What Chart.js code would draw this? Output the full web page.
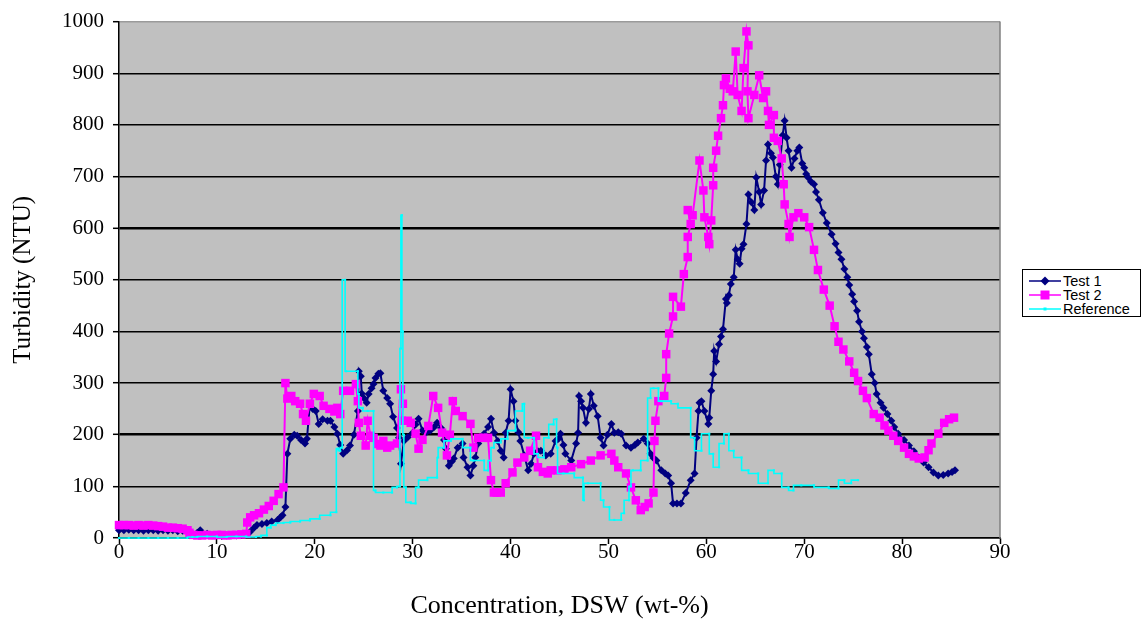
<!DOCTYPE html>
<html><head><meta charset="utf-8">
<script src="https://cdn.jsdelivr.net/npm/chart.js@4"></script>
<style>
html,body{margin:0;padding:0;background:#fff;}
#wrap{position:relative;width:1145px;height:626px;overflow:hidden;}
#c{position:absolute;left:0;top:0;}
#legend{position:absolute;left:1022px;top:269px;width:119px;height:48px;border:1px solid #000;background:#fff;font-family:"Liberation Sans",Arial,sans-serif;font-size:14.5px;color:#000;box-sizing:border-box;}
.row{position:absolute;left:0;height:15px;line-height:15px;white-space:nowrap;}
.row svg{position:absolute;left:6px;top:2px;}
.row span{position:absolute;left:40px;top:0;}
</style></head>
<body><div id="wrap"><canvas id="c" width="1145" height="626"></canvas>
<div id="legend"></div></div>
<script>
// ---- data ----
const seriesNames = ["Test 1", "Test 2", "Reference"];
const xTicks = [0,10,20,30,40,50,60,70,80,90];
const yTicks = [0,100,200,300,400,500,600,700,800,900,1000];

const test1X = [0,0.5,1,1.5,2,2.5,3,3.5,4,4.5,5,5.5,6,6.5,7,7.5,8,8.3,9,9.5,10,10.5,11,11.5,12,12.5,13,13.4,13.8,14.1,14.6,15.1,15.6,16.2,16.5,16.7,17,17.2,17.5,17.9,18.2,18.6,19,19.2,19.5,19.8,20.1,20.4,20.8,21.3,21.6,22,22.3,22.6,22.9,23.3,23.6,24,24.4,24.5,24.7,24.8,25,25.3,25.5,25.8,26,26.2,26.5,26.7,27,27.4,27.7,28,28.4,28.6,28.8,29.1,29.5,30,30.3,30.6,31,31.4,31.8,32.2,32.5,32.9,33.2,33.4,33.7,34,34.2,34.6,35.1,35.2,35.6,35.9,36.2,36.4,36.7,37,37.3,37.7,38,38.3,38.7,39,39.3,39.5,39.8,40,40.3,40.5,40.8,41,41.4,41.8,42.1,42.4,42.8,43.1,43.6,44.1,44.6,44.9,45.1,45.4,45.6,46.2,46.7,46.9,47,47.2,47.4,47.7,48,48.2,48.5,48.9,49.2,49.5,49.9,50.3,50.6,51,51.3,51.8,52.3,52.7,53,53.6,54,54.3,54.6,54.9,55.4,55.8,56.1,56.4,56.6,57,57.4,57.9,58.4,58.8,59,59.2,59.3,59.5,59.8,60.2,60.3,60.5,60.7,60.8,61,61.3,61.5,61.7,62,62.1,62.3,62.5,62.8,63,63.2,63.4,63.6,63.8,64.1,64.3,64.6,64.9,65.1,65.4,65.6,65.9,66.1,66.3,66.6,66.8,67.1,67.3,67.5,67.8,68,68.2,68.4,68.7,69,69.3,69.5,69.8,70,70.2,70.4,70.7,71,71.2,71.5,71.9,72.3,72.8,73.2,73.5,73.8,74.1,74.4,74.6,74.9,75.1,75.4,75.6,75.9,76.1,76.4,76.6,76.9,77.2,77.4,77.8,78.1,78.5,78.9,79.2,79.6,80.2,80.7,81.2,81.7,82.2,82.7,83.2,83.7,84.2,84.7,85.1,85.4];
const test1Y = [15,15,16,15,15,14,15,15,14,15,14,15,13,14,12,8,10,15,8,5,5,4,5,5,5,6,8,12,20,25,27,29,32,35,40,44,60,163,192,200,198,190,183,192,260,250,246,221,230,227,227,215,202,180,163,170,179,200,246,323,313,280,271,262,279,290,298,310,318,319,285,271,260,235,213,194,144,188,195,204,220,231,208,205,208,215,223,213,190,173,140,148,154,175,183,156,137,121,140,156,183,195,202,215,231,204,188,169,156,204,227,288,265,227,205,188,160,131,144,163,168,169,160,163,188,192,202,180,163,150,183,204,275,265,252,223,250,279,256,236,194,179,200,221,204,205,202,179,175,180,185,192,183,163,155,150,131,125,121,106,67,67,67,87,112,125,194,246,262,265,246,221,233,285,317,362,342,375,390,404,463,455,470,492,505,558,540,531,560,569,608,665,650,635,698,670,646,673,731,762,745,737,700,685,723,780,808,775,750,717,735,750,756,725,717,705,698,690,685,670,655,630,610,588,570,553,540,521,505,490,472,458,440,419,400,387,370,356,317,300,279,262,252,240,227,215,202,190,179,168,156,146,137,127,121,122,125,128,131];

const test2X = [0,0.5,1,1.5,2,2.5,3,3.5,4,4.5,5,5.5,6,6.5,7,7.2,7.6,8,8.5,9,9.5,10,10.5,11,11.5,12,12.5,13,13.1,13.4,13.8,14.3,14.8,15.3,15.8,16.3,16.8,17,17.2,17.6,18,18.5,18.8,19.1,19.5,19.9,20.5,20.9,21.5,22,22.3,22.6,22.9,23.6,24.2,24.4,24.5,24.7,25.2,25.4,25.7,26,26.4,26.7,27,27.4,27.7,28.4,28.8,29,28.9,29.5,29.8,30.3,30.6,31,31.6,32.1,32.6,33,33.5,33.8,34.1,34.4,35.1,35.9,36.2,36.7,37.2,37.7,38,38.3,38.6,39,39.5,40.2,40.7,41.4,42,42.6,42.8,43.3,43.8,44.1,44.8,45.5,46.2,47.2,48.2,49.2,50.3,50.6,51,51.8,52.3,52.8,53.3,53.7,54.1,54.6,54.7,54.8,55.1,55.7,55.9,55.9,56.2,56.6,56.6,57.4,57.7,58.1,58.1,58.4,58.1,58.6,59.3,59.7,59.8,60.2,60.3,60.5,60.7,60.7,61,61.2,61.5,61.7,61.8,62,62.4,62.7,63,63.2,63.6,63.8,64.1,64.3,64.2,64.3,64.9,65.4,65.8,66.1,66.3,66.4,66.9,66.9,67.3,67.7,67.9,68,68.4,68.5,68.9,69.4,70,70.5,71,71.4,72,72.6,73.1,73.5,74,74.6,75.1,75.5,76,76.4,77.1,77.7,78.2,78.6,79.1,79.6,80.2,80.7,81.2,81.7,82.3,82.7,83,83.7,84.3,84.8,85.3];
const test2Y = [25,25,25,24,25,24,25,24,23,22,20,20,19,18,15,10,6,5,5,6,5,6,6,5,6,6,7,8,30,40,44,48,55,62,72,85,98,300,270,275,265,260,240,227,260,279,275,256,250,245,252,240,285,285,298,265,223,198,179,227,198,194,182,179,188,175,179,183,288,260,227,227,223,202,173,190,217,275,252,204,160,200,265,246,236,221,175,194,194,194,112,88,88,88,106,127,146,156,169,198,137,128,125,131,131,133,137,143,150,160,163,150,137,125,98,73,54,60,67,88,188,227,265,275,310,356,396,429,467,448,511,544,583,608,635,625,731,673,621,583,569,615,683,717,750,779,813,838,877,890,870,865,942,858,827,910,981,954,865,813,858,896,852,865,827,800,819,775,769,735,685,646,608,583,621,629,621,602,558,519,481,450,410,380,365,342,320,304,285,271,240,233,218,208,198,188,175,163,158,154,156,170,183,202,223,230,233];

const refX = [0,1,2,3,4,5,6,7,7.5,8,9,10,11,12,13,14,14.5,15.1,15.5,16,16.8,17.5,18.5,19.5,20.5,21.6,22.2,22.4,22.6,22.8,23.1,23.2,24.4,24.5,24.9,25.4,26,26.2,27,27.9,28.4,28.7,28.8,28.9,29,29.1,29.3,29.8,30.3,30.6,31.5,32.5,32.6,33.2,33.9,35.1,35.9,36.2,37.3,37.7,38,38.3,39,39.7,40.5,41.2,41.4,41.8,42.4,42.8,43.4,43.9,44.4,44.7,44.8,45.4,46.5,47.4,47.5,47.9,49.2,49.5,50.1,50.6,51.3,51.6,52.1,52.3,52.5,53.3,54,54.3,54.6,55.1,55.4,56.4,57.1,58.4,58.8,59.5,60.3,60.7,61.3,61.8,62.3,62.8,63.6,64.3,65.3,66.3,66.9,67.7,68.4,68.9,69.7,71,72.5,73.5,74.1,74.8,75.5];
const refY = [0,0,0,0,0,0,0,0,2,2,3,3,2,3,3,2,3,5,20,25,29,30,32,34,37,44,50,173,169,175,500,323,323,279,252,246,246,92,88,88,98,100,367,625,400,200,98,69,67,98,112,117,156,175,188,192,175,150,150,131,150,175,185,192,208,246,260,194,194,163,156,194,220,230,175,125,125,117,73,106,106,73,60,35,35,48,73,100,131,131,150,271,290,290,265,265,260,252,194,169,202,163,137,183,202,169,156,131,125,106,131,125,98,92,102,102,98,96,112,106,112];

const colors = ["#000080", "#FF00FF", "#00FFFF"];

function pts(xs, ys){ return xs.map((x,i)=>({x:x, y:ys[i]})); }

const plotBg = {
  id:'plotBg',
  beforeDraw(chart){
    const {ctx, chartArea:a} = chart;
    ctx.save(); ctx.fillStyle='#C0C0C0';
    ctx.fillRect(a.left, a.top, a.right-a.left, a.bottom-a.top);
    ctx.restore();
  },
  afterDraw(chart){
    const {ctx, chartArea:a} = chart;
    ctx.save(); ctx.strokeStyle='#808080'; ctx.lineWidth=1.5;
    ctx.beginPath(); ctx.moveTo(a.right, a.top); ctx.lineTo(a.right, a.bottom); ctx.stroke();
    ctx.restore();
  }
};

const serif = "'Liberation Serif','Times New Roman',serif";

const chart = new Chart(document.getElementById('c'), {
  type:'scatter',
  data:{datasets:[
    {label:seriesNames[0], data:pts(test1X,test1Y), showLine:true, borderColor:colors[0], backgroundColor:colors[0], borderWidth:2, pointStyle:'rectRot', pointRadius:4, pointBorderWidth:0, clip:false, order:3},
    {label:seriesNames[1], data:pts(test2X,test2Y), showLine:true, borderColor:colors[1], backgroundColor:colors[1], borderWidth:2, pointStyle:'rect', pointRadius:6, pointBorderWidth:0, clip:false, order:2},
    {label:seriesNames[2], data:pts(refX,refY), showLine:true, stepped:'after', borderColor:colors[2], backgroundColor:colors[2], borderWidth:1.6, pointStyle:'rect', pointRadius:1.5, pointBorderWidth:0, clip:false, order:1}
  ]},
  options:{
    responsive:false, animation:false, devicePixelRatio:1,
    layout:{padding:{left:0, right:145, top:13, bottom:0}},
    plugins:{legend:{display:false}, tooltip:{enabled:false}},
    scales:{
      x:{type:'linear', min:0, max:90,
        afterBuildTicks(s){ s.ticks = xTicks.map(v=>({value:v})); },
        afterFit(s){ s.height = 88; },
        ticks:{font:{family:serif, size:21}, color:'#000', padding:-4, maxRotation:0, callback:(v)=>String(v)},
        grid:{drawOnChartArea:false, drawTicks:true, tickLength:6, tickColor:'#000', tickWidth:1.5},
        border:{color:'#000', width:1.5},
        title:{display:true, text:'Concentration, DSW (wt-%)', font:{family:serif, size:26}, color:'#000', padding:{top:0, bottom:4}}
      },
      y:{min:0, max:1000,
        afterBuildTicks(s){ s.ticks = yTicks.map(v=>({value:v})); },
        afterFit(s){ s.width = 119; },
        ticks:{font:{family:serif, size:21}, color:'#000', padding:9, callback:(v)=>String(v)},
        grid:{color:(c)=> c.tick && c.tick.value===1000 ? '#9a9a9a' : '#000',
              lineWidth:(c)=> (c.tick && (c.tick.value===200 || c.tick.value===600)) ? 2.6 : 1.4,
              drawTicks:true, tickLength:6, tickColor:'#000', tickWidth:1.5},
        border:{color:'#000', width:1.5},
        title:{display:true, text:'Turbidity (NTU)', font:{family:serif, size:25}, color:'#000', padding:{top:8, bottom:0}}
      }
    }
  },
  plugins:[plotBg]
});

// keep the plot frame where the reference has it (top edge at y = 17)
for (let k = 0; k < 3; k++) {
  const d = chart.chartArea.top - 17;
  if (Math.abs(d) < 0.5) break;
  chart.options.layout.padding.top -= d;
  chart.update();
}

// legend (HTML)
const markers = [
  '<polygon points="16,0.5 20.5,5 16,9.5 11.5,5" fill="#000080"/>',
  '<rect x="11.5" y="0.5" width="9" height="9" fill="#FF00FF"/>',
  '<rect x="14.5" y="3.5" width="3" height="3" fill="#00FFFF"/>'
];
const lg = document.getElementById('legend');
const rowTops = [4, 18, 32];
seriesNames.forEach((n,i)=>{
  const r = document.createElement('div');
  r.className='row'; r.style.top = rowTops[i]+'px';
  r.innerHTML = '<svg width="32" height="10"><line x1="0" y1="5" x2="32" y2="5" stroke="'+colors[i]+'" stroke-width="1.5"/>'+markers[i]+'</svg><span>'+n+'</span>';
  lg.appendChild(r);
});
</script>
</body></html>
